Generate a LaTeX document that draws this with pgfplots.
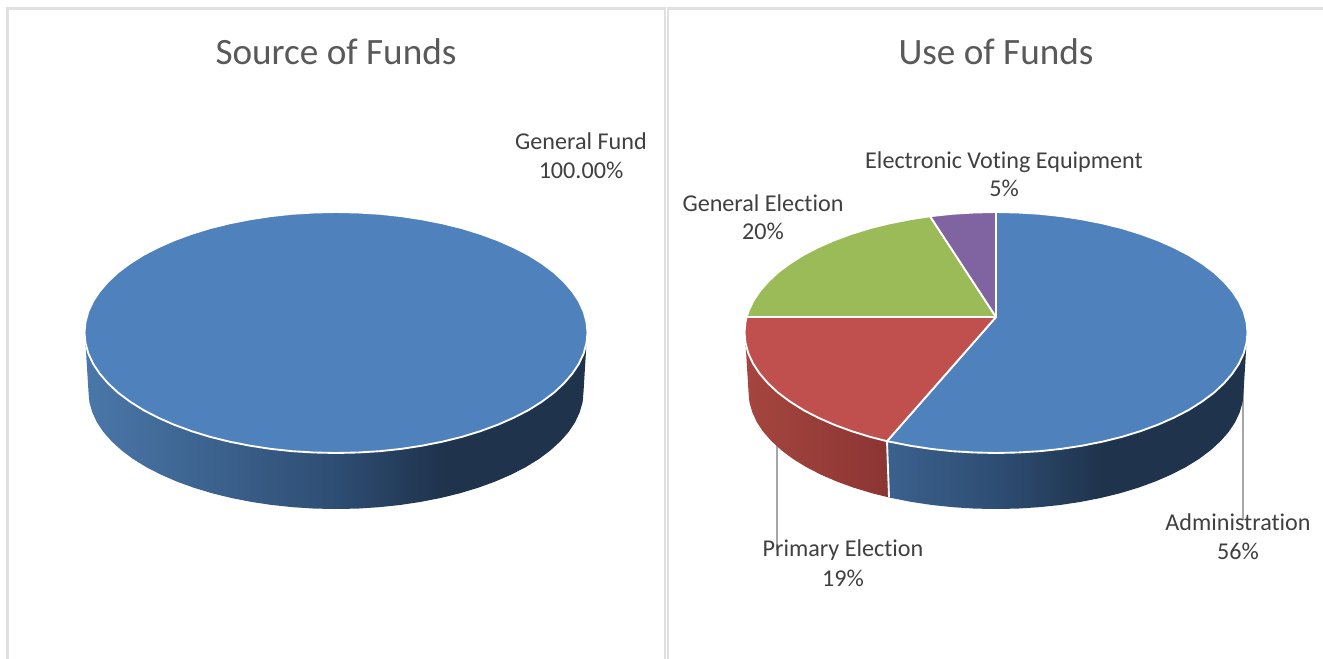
\documentclass[border=0pt]{standalone}
\usepackage{pgfplots}
\usepackage{fontspec}
\pgfplotsset{compat=1.18}
\setmainfont{Carlito}[Ligatures=NoCommon]

\definecolor{pieblue}{HTML}{4F81BD}
\definecolor{piered}{HTML}{C0504D}
\definecolor{piegreen}{HTML}{9BBB59}
\definecolor{piepurple}{HTML}{8064A2}
\definecolor{titlegray}{HTML}{595959}
\definecolor{labelgray}{HTML}{404040}
\definecolor{framegray}{HTML}{E0E0E0}
\definecolor{leadergray}{HTML}{A6A6A6}
\definecolor{sideA}{HTML}{4A77A9}
\definecolor{sideB}{HTML}{2E4D73}
\definecolor{sideC}{HTML}{1F334C}
\definecolor{sideD}{HTML}{3B618E}
\definecolor{redsideA}{HTML}{A6453F}
\definecolor{redsideB}{HTML}{8B3533}

% Rim shading: the path box spans 25bp to 75bp of the shading
\pgfdeclarehorizontalshading{fullrim}{100bp}{color(0bp)=(sideA); color(25bp)=(sideA); color(50bp)=(sideB); color(60.6bp)=(sideC); color(100bp)=(sideC)}
\pgfdeclarehorizontalshading{partrim}{100bp}{color(0bp)=(sideD); color(25bp)=(sideD); color(40.2bp)=(sideB); color(55bp)=(sideC); color(100bp)=(sideC)}

\pgfplotsset{
  pieaxis/.style={
    hide axis, scale only axis, width=992.25pt, height=494.25pt,
    y dir=reverse, ymin=-332.5, ymax=326.5,
  },
}
\tikzset{
  wedge/.style={fill=#1, draw=white, line width=1.4pt, line join=round},
  rimface/.style={draw=none},
  charttitle/.style={anchor=base, text=titlegray, font=\fontsize{27.9}{33}\selectfont},
  lab/.style={anchor=base, text=labelgray, font=\fontsize{18.1}{22}\selectfont},
}

\begin{document}
\begin{tikzpicture}
% page background, which also fixes the picture's extent
\fill[white] (0,0) rectangle (992.25pt,494.25pt);
% Source of Funds: offsets are measured from the pie's centre
\begin{axis}[pieaxis, name=sourcepie, xmin=-336, xmax=987]
  % panel frame
  \addplot[framegray, line width=1.7pt] coordinates {(-328.5,326.5) (-328.5,-324) (329.3,-324) (329.3,326.5)};
  \addplot[framegray, line width=1.7pt] coordinates {(331.8,326.5) (331.8,-324) (987,-324)};

  % rim
  \addplot[rimface, shade, shading=fullrim] coordinates {
    (-250.5,10.5) (-247.5,59.5) (-246.6,69.7) (-243.7,79.8) (-239.1,89.8) (-232.6,99.5) (-224.3,108.9)
    (-214.3,118.0) (-202.8,126.6) (-189.6,134.7) (-175.0,142.2) (-159.1,149.1) (-142.0,155.3) (-123.8,160.8)
    (-104.6,165.5) (-84.6,169.4) (-64.1,172.5) (-43.0,174.7) (-21.6,176.1) (0,176.5) (21.6,176.1) (43.0,174.7)
    (64.1,172.5) (84.6,169.4) (104.6,165.5) (123.8,160.8) (142.0,155.3) (159.1,149.1) (175.0,142.2) (189.6,134.7)
    (202.8,126.6) (214.3,118.0) (224.3,108.9) (232.6,99.5) (239.1,89.8) (243.7,79.8) (246.6,69.7) (247.5,59.5)
    (250.5,10.5)} -- cycle;

  % General Fund, 100.00%
  \addplot[wedge=pieblue] coordinates {
    (0,-120.5) (21.9,-120.0) (43.7,-118.7) (65.1,-116.4) (86.0,-113.2) (106.3,-109.2) (125.8,-104.4) (144.3,-98.7)
    (161.7,-92.3) (177.8,-85.2) (192.7,-77.5) (206.0,-69.1) (217.8,-60.3) (227.9,-50.9) (236.3,-41.2) (242.9,-31.2)
    (247.7,-20.9) (250.5,-10.5) (251.5,0) (250.5,10.5) (247.7,20.9) (242.9,31.2) (236.3,41.2) (227.9,50.9)
    (217.8,60.3) (206.0,69.1) (192.7,77.5) (177.8,85.2) (161.7,92.3) (144.3,98.7) (125.8,104.4) (106.3,109.2)
    (86.0,113.2) (65.1,116.4) (43.7,118.7) (21.9,120.0) (0,120.5) (-21.9,120.0) (-43.7,118.7) (-65.1,116.4)
    (-86.0,113.2) (-106.3,109.2) (-125.8,104.4) (-144.3,98.7) (-161.7,92.3) (-177.8,85.2) (-192.7,77.5) (-206.0,69.1)
    (-217.8,60.3) (-227.9,50.9) (-236.3,41.2) (-242.9,31.2) (-247.7,20.9) (-250.5,10.5) (-251.5,0) (-250.5,-10.5)
    (-247.7,-20.9) (-242.9,-31.2) (-236.3,-41.2) (-227.9,-50.9) (-217.8,-60.3) (-206.0,-69.1) (-192.7,-77.5) (-177.8,-85.2)
    (-161.7,-92.3) (-144.3,-98.7) (-125.8,-104.4) (-106.3,-109.2) (-86.0,-113.2) (-65.1,-116.4) (-43.7,-118.7) (-21.9,-120.0)} -- cycle;

  \node[charttitle] at (axis cs:0,-268) {Source of Funds};
  \node[lab] at (axis cs:245,-182.5) {General Fund};
  \node[lab] at (axis cs:245,-153.5) {100.00\%};
\end{axis}

% Use of Funds: offsets are measured from the pie's centre
\begin{axis}[pieaxis, name=usepie, xmin=-996, xmax=327]
  % leader lines sit behind the rim
  \addplot[leadergray, line width=1.3pt] coordinates {(-219,100) (-219,217)};
  \addplot[leadergray, line width=1.3pt] coordinates {(247,40) (247,187.5)};

  % Administration rim
  \addplot[rimface, shade, shading=partrim] coordinates {
    (-109,108.7) (-107,165) (-104.6,165.5) (-84.6,169.4) (-64.1,172.5) (-43.0,174.7) (-21.6,176.1) (0,176.5)
    (21.6,176.1) (43.0,174.7) (64.1,172.5) (84.6,169.4) (104.6,165.5) (123.8,160.8) (142.0,155.3) (159.1,149.1)
    (175.0,142.2) (189.6,134.7) (202.8,126.6) (214.3,118.0) (224.3,108.9) (232.6,99.5) (239.1,89.8) (243.7,79.8)
    (246.6,69.7) (247.5,59.5) (250.5,10.5)} -- cycle;
  % Primary Election rim
  \addplot[rimface, left color=redsideA, right color=redsideB] coordinates {
    (-109,108.7) (-107,165) (-123.8,160.8) (-142.0,155.3) (-159.1,149.1) (-175.0,142.2) (-189.6,134.7) (-202.8,126.6)
    (-214.3,118.0) (-224.3,108.9) (-232.6,99.5) (-239.1,89.8) (-243.7,79.8) (-246.6,69.7) (-247.5,59.5) (-250.5,10.5)} -- cycle;
  \addplot[white, line width=1.4pt] coordinates {(-109,108.7) (-107,165)};

  % Administration, 56%
  \addplot[wedge=pieblue] coordinates {
    (0,-120.5) (21.9,-120.0) (43.7,-118.7) (65.1,-116.4) (86.0,-113.2) (106.3,-109.2) (125.8,-104.4) (144.3,-98.7)
    (161.7,-92.3) (177.8,-85.2) (192.7,-77.5) (206.0,-69.1) (217.8,-60.3) (227.9,-50.9) (236.3,-41.2) (242.9,-31.2)
    (247.7,-20.9) (250.5,-10.5) (251.5,0) (250.5,10.5) (247.7,20.9) (242.9,31.2) (236.3,41.2) (227.9,50.9)
    (217.8,60.3) (206.0,69.1) (192.7,77.5) (177.8,85.2) (161.7,92.3) (144.3,98.7) (125.8,104.4) (106.3,109.2)
    (86.0,113.2) (65.1,116.4) (43.7,118.7) (21.9,120.0) (0,120.5) (-21.9,120.0) (-43.7,118.7) (-65.1,116.4)
    (-86.0,113.2) (-106.3,109.2) (-109,108.7) (0,-15.5)} -- cycle;
  % Primary Election, 19%
  \addplot[wedge=piered] coordinates {
    (0,-15.5) (-109,108.7) (-125.8,104.4) (-144.3,98.7) (-161.7,92.3) (-177.8,85.2) (-192.7,77.5) (-206.0,69.1)
    (-217.8,60.3) (-227.9,50.9) (-236.3,41.2) (-242.9,31.2) (-247.7,20.9) (-250.5,10.5) (-251.5,0) (-250.5,-10.5)
    (-249.4,-15.5)} -- cycle;
  % General Election, 20%
  \addplot[wedge=piegreen] coordinates {
    (0,-15.5) (-249.4,-15.5) (-247.7,-20.9) (-242.9,-31.2) (-236.3,-41.2) (-227.9,-50.9) (-217.8,-60.3) (-206.0,-69.1)
    (-192.7,-77.5) (-177.8,-85.2) (-161.7,-92.3) (-144.3,-98.7) (-125.8,-104.4) (-106.3,-109.2) (-86.0,-113.2) (-66,-116.3)} -- cycle;
  % Electronic Voting Equipment, 5%
  \addplot[wedge=piepurple] coordinates {
    (0,-15.5) (-66,-116.3) (-43.7,-118.7) (-21.9,-120.0) (0,-120.5)} -- cycle;

  \node[charttitle] at (axis cs:0,-268) {Use of Funds};
  \node[lab] at (axis cs:8,-164) {Electronic Voting Equipment};
  \node[lab] at (axis cs:8,-135.5) {5\%};
  \node[lab] at (axis cs:-233,-120.5) {General Election};
  \node[lab] at (axis cs:-233,-92.5) {20\%};
  \node[lab] at (axis cs:-153,223.5) {Primary Election};
  \node[lab] at (axis cs:-153,253.5) {19\%};
  \node[lab] at (axis cs:242,197.5) {Administration};
  \node[lab] at (axis cs:242,226.5) {56\%};
\end{axis}
\end{tikzpicture}
\end{document}
